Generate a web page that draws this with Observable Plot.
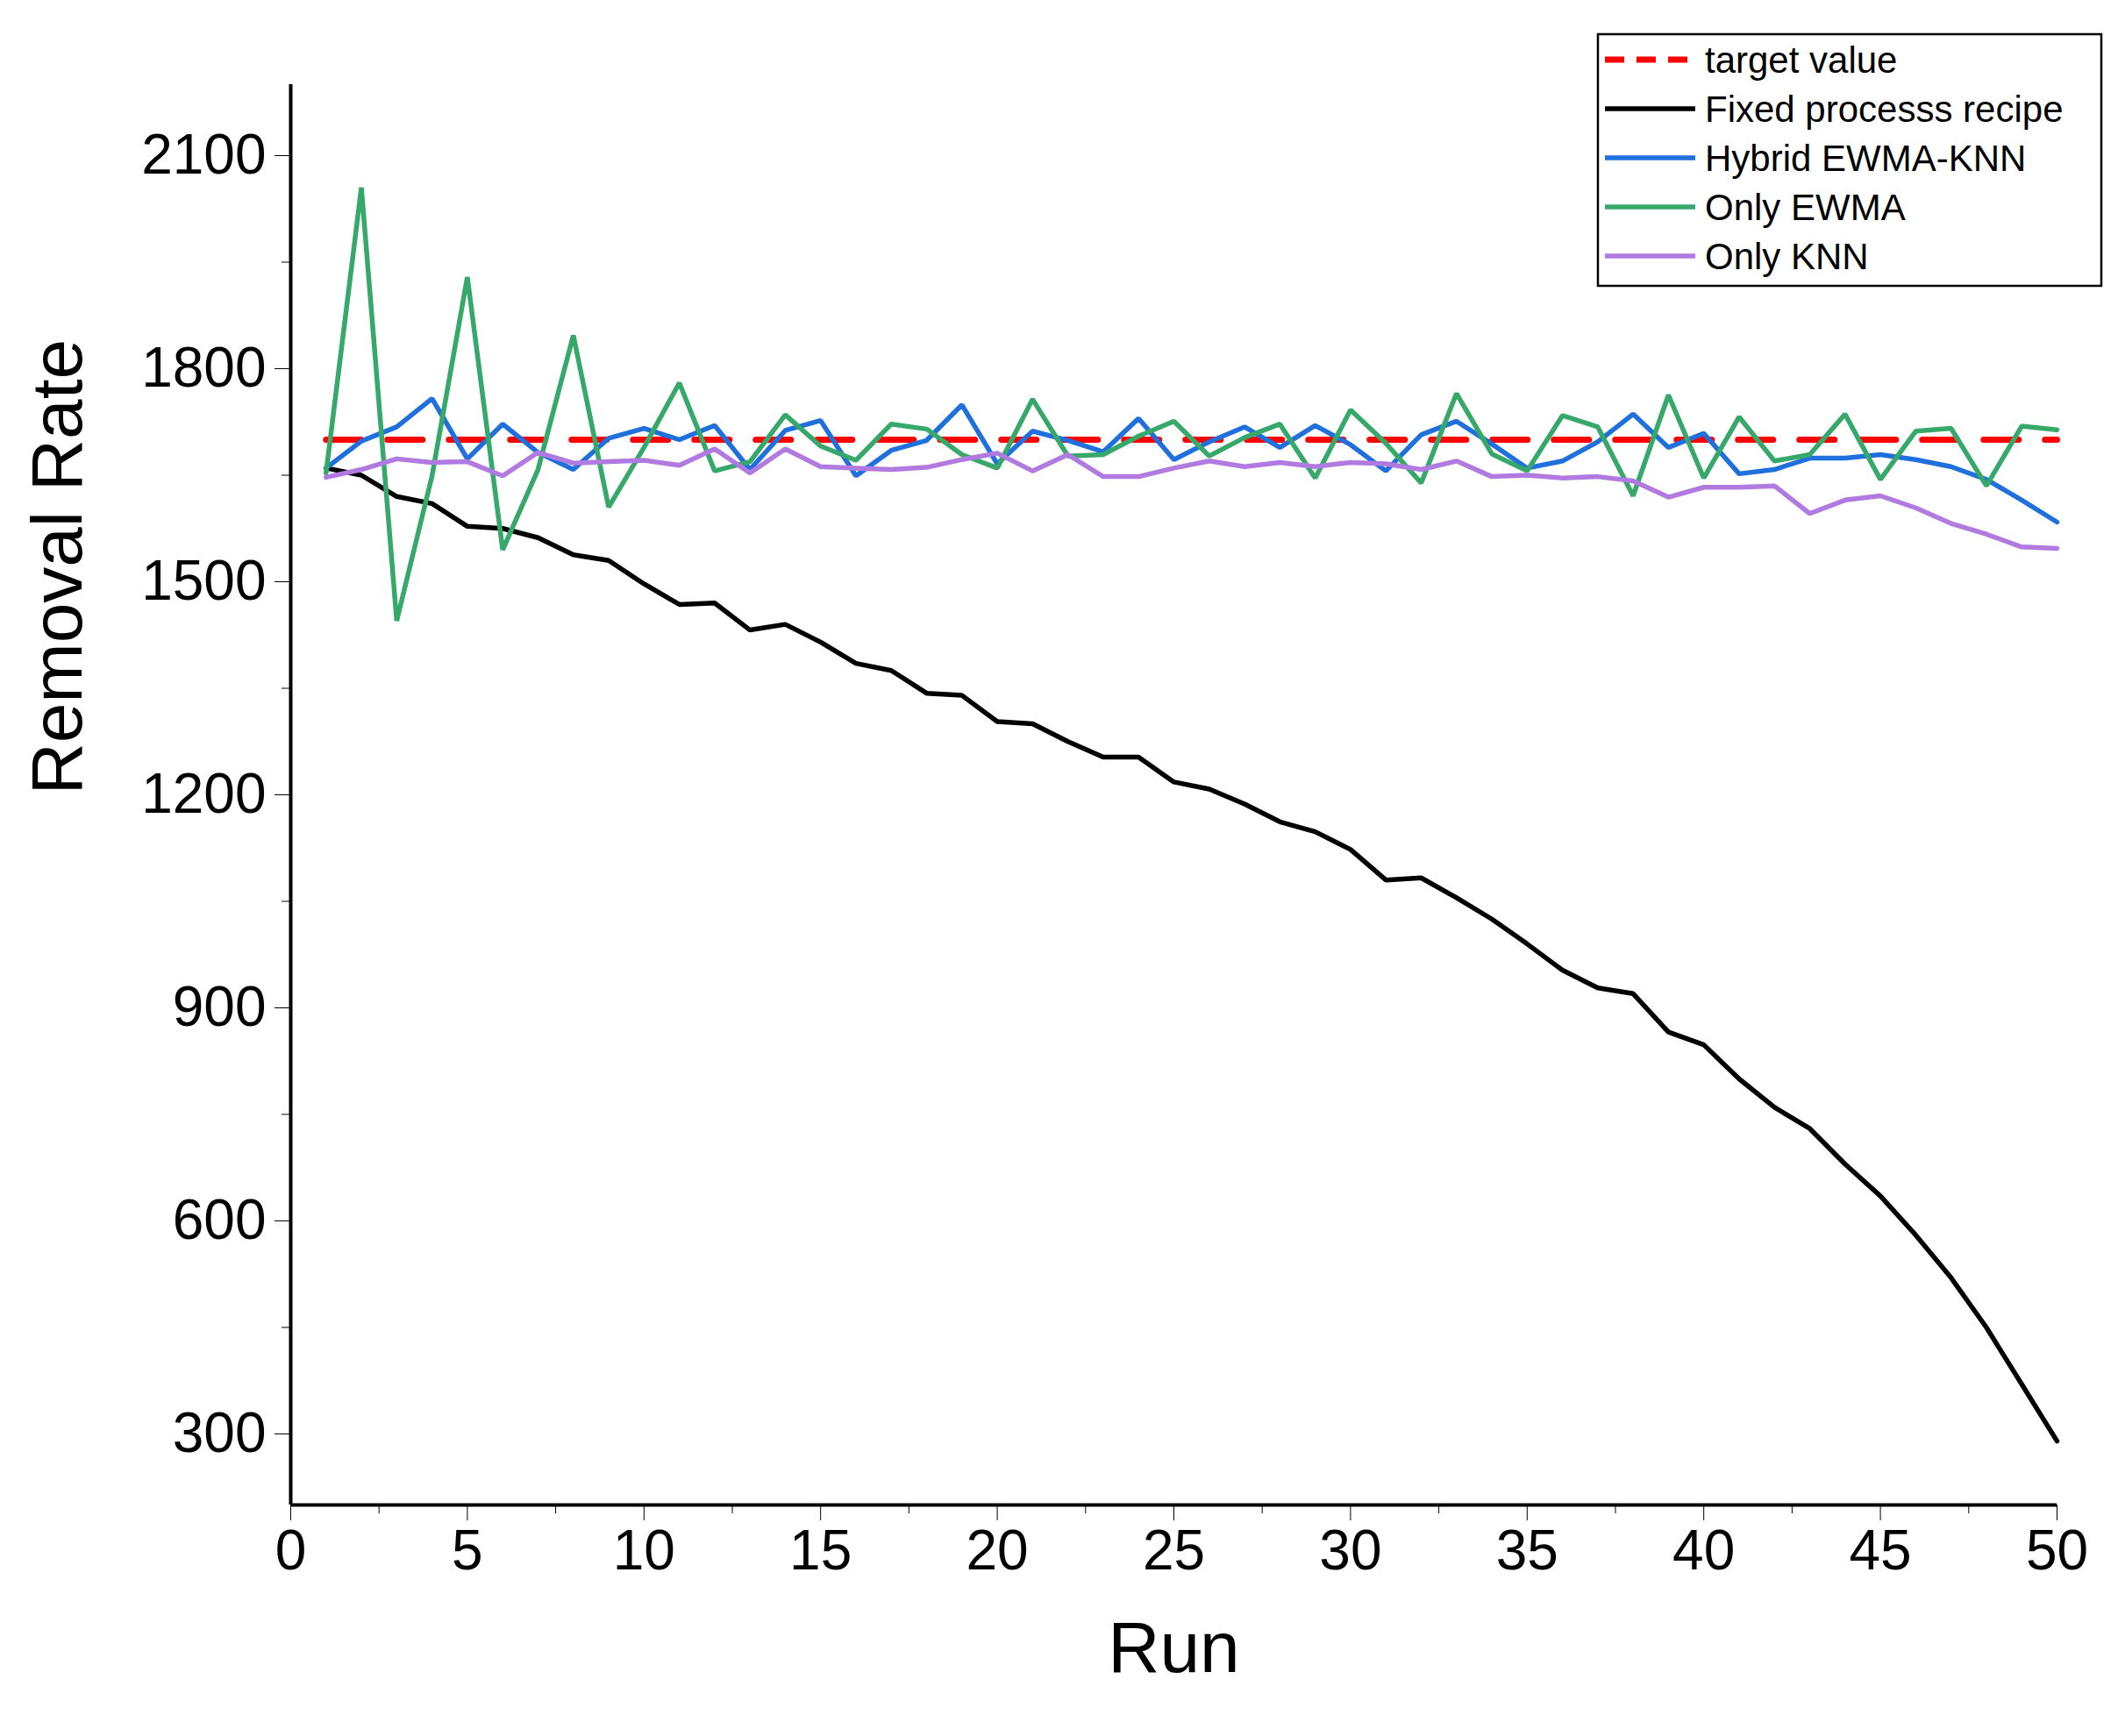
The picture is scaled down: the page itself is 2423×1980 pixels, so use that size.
<!DOCTYPE html>
<html><head><meta charset="utf-8">
<script src="https://cdn.jsdelivr.net/npm/d3@7"></script>
<script src="https://cdn.jsdelivr.net/npm/@observablehq/plot@0.6"></script>
<style>body{margin:0;background:#fff}svg{font-family:"Liberation Sans",Arial,sans-serif}</style>
</head><body><div id="c"></div>
<script>
const runs = d3.range(1, 51);
const target = 1700;
const fixedRecipe = [1660,1650,1620,1610,1578,1575,1562,1538,1530,1497,1468,1470,1432,1440,1415,1385,1375,1343,1340,1303,1300,1275,1253,1253,1218,1208,1187,1162,1148,1123,1080,1083,1055,1025,990,953,928,920,866,848,800,760,730,680,635,580,520,450,370,290];
const hybrid = [1660,1698,1718,1758,1673,1722,1682,1658,1702,1716,1700,1720,1658,1713,1727,1649,1685,1699,1749,1666,1712,1699,1683,1730,1672,1697,1718,1689,1720,1693,1656,1707,1726,1694,1660,1670,1697,1736,1689,1709,1652,1658,1674,1674,1679,1672,1662,1644,1615,1584];
const onlyEWMA = [1653,2055,1445,1649,1929,1545,1658,1847,1605,1689,1780,1656,1669,1735,1691,1671,1722,1715,1679,1660,1757,1677,1679,1705,1726,1677,1703,1722,1646,1742,1695,1639,1765,1680,1656,1734,1718,1621,1763,1646,1732,1670,1679,1736,1644,1712,1716,1635,1719,1714];
const onlyKNN = [1647,1658,1673,1668,1669,1649,1682,1667,1669,1671,1664,1687,1653,1687,1662,1660,1658,1661,1672,1681,1656,1679,1648,1648,1660,1670,1662,1668,1662,1668,1666,1658,1670,1648,1650,1646,1648,1642,1619,1633,1633,1635,1596,1615,1621,1604,1582,1567,1549,1547];
const seriesNames = ["target value","Fixed processs recipe","Hybrid EWMA-KNN","Only EWMA","Only KNN"];
const colors = ["#ff0000","#000000","#1f6fdc","#36a86a","#b07ae0"];
const xTicks = [0,5,10,15,20,25,30,35,40,45,50];
const yTicks = [300,600,900,1200,1500,1800,2100];

const rows = [];
[fixedRecipe, hybrid, onlyEWMA, onlyKNN].forEach((arr, k) =>
  arr.forEach((v, i) => rows.push({run: runs[i], v, s: seriesNames[k + 1]})));
const tgt = [{run: 1, v: target}, {run: 50, v: target}];
const xMinor = xTicks.slice(0, -1).map(t => t + 2.5);
const yMinor = yTicks.map(t => t + 150).filter(t => t > 200 && t < 2200);

const W = 2423, H = 1980;
const plot = Plot.plot({
  width: W, height: H,
  marginLeft: 331, marginRight: 78, marginTop: 96, marginBottom: 264,
  style: {fontSize: "64px", fontFamily: "Liberation Sans, Arial, sans-serif", background: "#fff"},
  x: {domain: [0, 50]},
  y: {domain: [200, 2200]},
  color: {domain: seriesNames, range: colors},
  marks: [
    Plot.axisX({ticks: xTicks, tickSize: 18, tickWidth: 4, tickPadding: 10, fontSize: 64, tickFormat: d => String(d), label: null, stroke: "#000"}),
    Plot.axisX({ticks: xMinor, tickSize: 10, tickWidth: 4, tickFormat: () => "", label: null}),
    Plot.axisY({ticks: yTicks, tickSize: 18, tickWidth: 4, tickPadding: 10, fontSize: 64, tickFormat: d => String(d), label: null}),
    Plot.axisY({ticks: yMinor, tickSize: 10, tickWidth: 4, tickFormat: () => "", label: null}),
    Plot.ruleX([0], {stroke: "#000", strokeWidth: 4}),
    Plot.ruleY([200], {stroke: "#000", strokeWidth: 4}),
    Plot.line(tgt, {x: "run", y: "v", stroke: "#ff0000", strokeWidth: 7, strokeDasharray: "40,30", strokeLinecap: "round"}),
    Plot.line(rows, {x: "run", y: "v", z: "s", stroke: "s", strokeWidth: 5.5, strokeLinejoin: "miter"}),
    Plot.text(["Run"], {frameAnchor: "bottom", dy: 190, fontSize: 82, fill: "#000"}),
    Plot.text(["Removal Rate"], {frameAnchor: "left", dx: -265, rotate: -90, fontSize: 82, fill: "#000"})
  ]
});
document.getElementById("c").appendChild(plot);

// legend
const svg = d3.select(plot);
const lg = svg.append("g");
lg.append("rect").attr("x", 1822).attr("y", 39).attr("width", 574).attr("height", 287)
  .attr("fill", "#fff").attr("stroke", "#000").attr("stroke-width", 2.5);
seriesNames.forEach((n, i) => {
  const y = 68 + i * 56;
  lg.append("line").attr("x1", 1830).attr("x2", 1933).attr("y1", y).attr("y2", y)
    .attr("stroke", colors[i]).attr("stroke-width", i === 0 ? 7 : 5.5)
    .attr("stroke-dasharray", i === 0 ? "22,14" : null);
  lg.append("text").attr("x", 1944).attr("y", y).attr("dy", "0.35em")
    .attr("text-anchor", "start").attr("font-size", 42).attr("fill", "#000").text(n);
});
</script></body></html>
